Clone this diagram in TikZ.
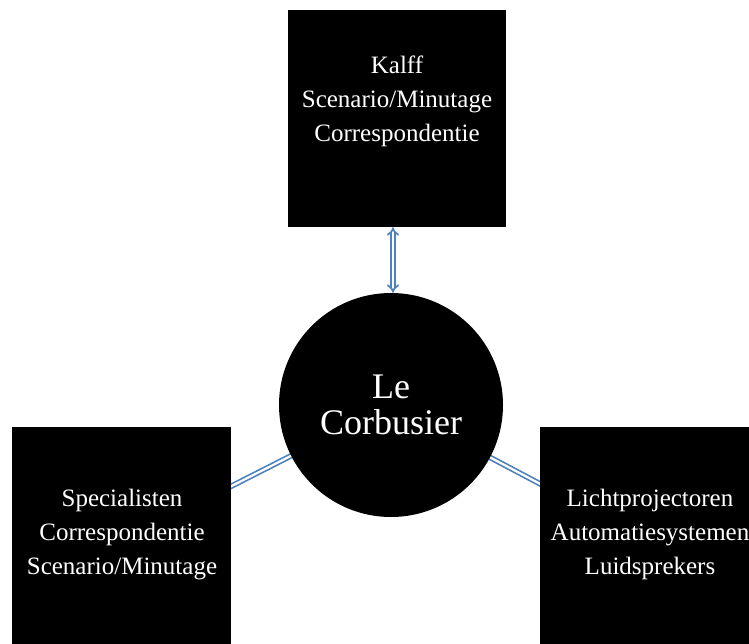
\documentclass[tikz,border=0pt]{standalone}
\usepackage{fontspec}
\setmainfont{Liberation Serif}
\usetikzlibrary{arrows.meta,backgrounds}
\definecolor{linkblue}{HTML}{4F81BD}
\tikzset{
  block/.style={fill=black, draw=none, rectangle, inner sep=0pt},
  blocktext/.style={text=white, align=center, font=\fontsize{25}{34}\selectfont},
  hub/.style={circle, fill=black, draw=none, inner sep=0pt, minimum size=224pt,
              text=white, align=center, font=\fontsize{36}{36}\selectfont},
  link/.style={draw=linkblue, double=white, line width=1.7pt, double distance=2.2pt}
}
\begin{document}
\begin{tikzpicture}[x=1pt, y=-1pt]
  \useasboundingbox (0,0) rectangle (749,643);
  % boxes
  \node[block, minimum width=218pt, minimum height=217pt] (top) at (397,118.5) {};
  \node[block, minimum width=219pt, minimum height=230pt] (left) at (121.5,542) {};
  \node[block, minimum width=220pt, minimum height=230pt] (right) at (650,542) {};
  % hub
  \node[hub] (hub) at (391,405) {Le\\Corbusier};
  % box texts
  \node[blocktext] (toptext) at (397,101) {Kalff\\Scenario/Minutage\\Correspondentie};
  \node[blocktext] (lefttext) at (122,535) {Specialisten\\Correspondentie\\Scenario/Minutage};
  \node[blocktext] (righttext) at (650,534) {Lichtprojectoren\\Automatiesystemen\\Luidsprekers};
  % connectors, kept behind the shapes
  \coordinate (tA) at ([xshift=2pt]top.south -| hub.north);
  \coordinate (tB) at ([xshift=2pt]hub.north);
  \begin{scope}[on background layer]
    \draw[link, {Implies[length=4pt]}-{Implies[length=4pt]}] (tA) -- (tB);
    \draw[link] (hub.center) -- (left.center);
    \draw[link] (hub.center) -- (right.center);
  \end{scope}
\end{tikzpicture}
\end{document}
